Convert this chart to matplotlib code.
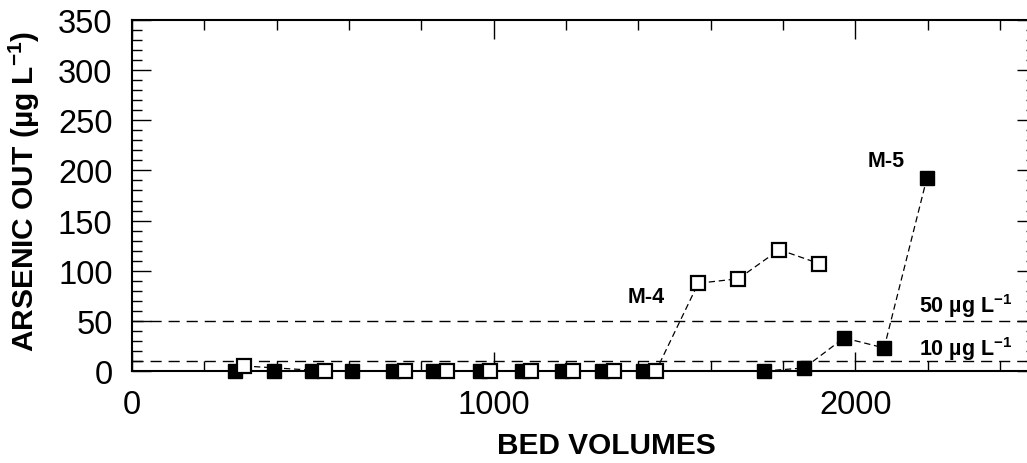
import numpy as np
import matplotlib
matplotlib.use('Agg')
import matplotlib.pyplot as plt
from matplotlib.ticker import MultipleLocator

plt.rcParams['font.family'] = ['Liberation Sans', 'DejaVu Sans']
plt.rcParams['mathtext.fontset'] = 'custom'
plt.rcParams['mathtext.rm'] = 'Liberation Sans:bold'
plt.rcParams['mathtext.default'] = 'rm'

# M-4 column (open squares)
bv_m4 = [310, 535, 756, 872, 990, 1103, 1220, 1334, 1449, 1566, 1677, 1790, 1901]
as_m4 = [5, 0, 0, 0, 0, 0, 0, 0, 0, 87.5, 92, 121, 107]

# M-5 column (filled squares)
bv_m5 = [285, 392, 498, 608, 721, 833, 962, 1078, 1189, 1301, 1414,
         1748, 1859, 1969, 2080, 2198]
as_m5 = [0, 0, 0, 0, 0, 0, 0, 0, 0, 0, 0, 0, 3, 33, 23, 192]

limits = [50, 10]
limit_labels = [r'50 µg L$^{-1}$', r'10 µg L$^{-1}$']

fig = plt.figure(figsize=(10.27, 4.64), dpi=100)
ax = fig.add_axes([132/1027, 1 - 372/464, 904/1027, 351/464])

for lim in limits:
    ax.axhline(lim, color='black', lw=1.0, dashes=(8, 5), zorder=1)

ax.plot(bv_m4, as_m4, color='black', lw=0.9, dashes=(5, 3),
        marker='s', ms=10, mfc='white', mec='black', mew=1.6,
        clip_on=False, zorder=4)
ax.plot(bv_m5, as_m5, color='black', lw=0.9, dashes=(5, 3),
        marker='s', ms=10, mfc='black', mec='black', mew=1.0,
        clip_on=False, zorder=3)

ax.set_xlim(0, 2500)
ax.set_ylim(0, 350)
ax.xaxis.set_major_locator(MultipleLocator(1000))
ax.xaxis.set_minor_locator(MultipleLocator(200))
ax.yaxis.set_major_locator(MultipleLocator(50))
ax.yaxis.set_minor_locator(MultipleLocator(10))
ax.tick_params(which='both', direction='in', top=True, right=True,
               width=1.0, labelsize=23.5)
ax.tick_params(which='major', length=14)
ax.tick_params(which='minor', length=7)
ax.tick_params(axis='x', pad=13)
ax.tick_params(axis='y', pad=14)
for sp in ax.spines.values():
    sp.set_linewidth(1.5)

ax.set_xlabel('BED VOLUMES', fontsize=21.5, fontweight='bold')
ax.xaxis.set_label_coords(0.525, -0.17)
ax.set_ylabel(r'ARSENIC OUT (µg L$^{-1}$)', fontsize=21.5, fontweight='bold')
ax.yaxis.set_label_coords(-0.10, 0.516)

ax.text(1372, 69, 'M-4', fontsize=15.5, fontweight='bold', ha='left', va='baseline')
ax.text(2033, 204, 'M-5', fontsize=15.5, fontweight='bold', ha='left', va='baseline')
ax.text(2436, 59, limit_labels[0], fontsize=15.5, fontweight='bold', ha='right', va='baseline')
ax.text(2436, 16, limit_labels[1], fontsize=15.5, fontweight='bold', ha='right', va='baseline')

fig.savefig('out.png', dpi=100)
